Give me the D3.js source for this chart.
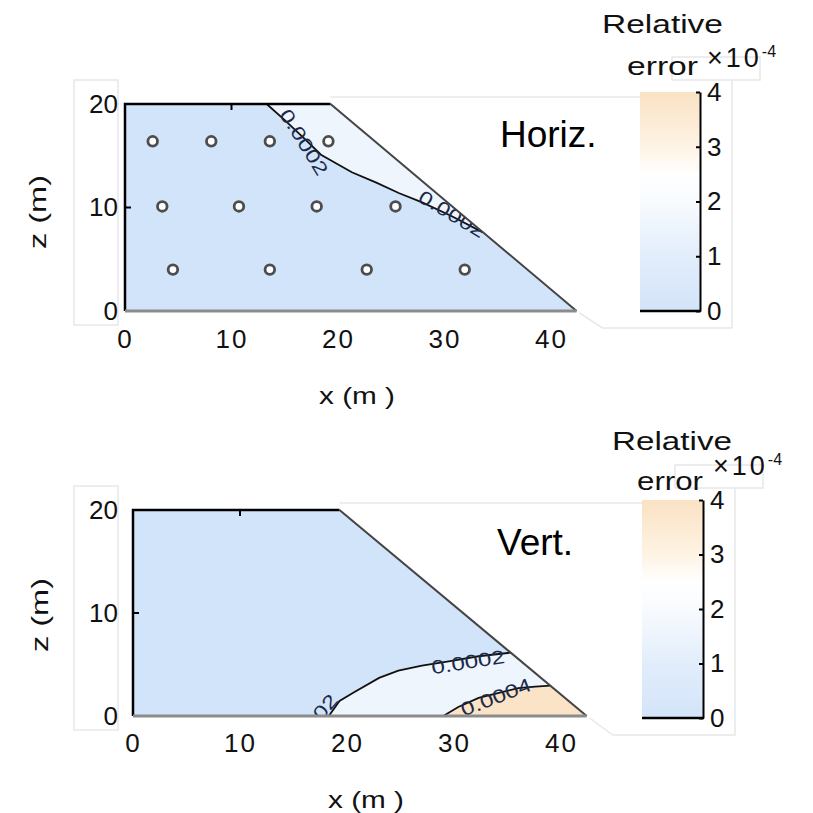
<!DOCTYPE html>
<html>
<head>
<meta charset="utf-8">
<script src="https://cdn.jsdelivr.net/npm/d3@7"></script>
<style>
  body { margin: 0; background: #fff; }
  svg { display: block; }
</style>
</head>
<body>
<div id="chart"></div>
<script>
// dam cross-section outline, x and z in metres
const damX = [0, 0, 19.3, 42.4]
const damZ = [0, 20, 20, 0]

// sensor locations (horizontal case only)
const sensorX = [2.6, 8.1, 13.6, 19.1, 3.5, 10.7, 18.0, 25.4, 4.5, 13.6, 22.7, 31.9]
const sensorZ = [16.4, 16.4, 16.4, 16.4, 10.1, 10.1, 10.1, 10.1, 4.0, 4.0, 4.0, 4.0]

// 2e-4 contour, horizontal load case
const horizC2X = [13.3, 15.0, 16.8, 18.4, 21.3, 23.6, 25.7, 27.9, 30.6, 33.6]
const horizC2Z = [20, 18.45, 16.7, 15.1, 13.4, 12.4, 11.4, 10.5, 9.2, 7.6]

// 2e-4 and 4e-4 contours, vertical load case
const vertC2X = [18.3, 19.3, 20.7, 23.0, 24.8, 27.0, 29.5, 32.3, 35.3]
const vertC2Z = [0, 1.46, 2.33, 3.7, 4.4, 4.9, 5.3, 5.8, 6.15]
const vertC4X = [29.0, 30.4, 32.3, 34.1, 36.0, 37.6, 39.0]
const vertC4Z = [0, 0.87, 1.75, 2.23, 2.7, 2.85, 2.94]

const xTicks = [0, 10, 20, 30, 40]
const zTicks = [0, 10, 20]
const errTicks = [0, 1, 2, 3, 4]   // x 1e-4

const colorStops = [0, 1, 2, 2.5, 3, 4]
const colorValues = ['#d3e4f9', '#e2edfb', '#f8fbfe', '#ffffff', '#fef3e4', '#fae2c4']
const errColor = d3.scaleLinear(colorStops, colorValues)

const FONT = '"Liberation Sans", Arial, sans-serif'
const zip = (xs, zs) => xs.map((v, i) => [v, zs[i]])
const dam = zip(damX, damZ)

const svg = d3.select('#chart').append('svg')
    .attr('width', 813)
    .attr('height', 813)
    .attr('viewBox', [0, 0, 813, 813])

const defs = svg.append('defs')
const grad = defs.append('linearGradient')
    .attr('id', 'errgrad')
    .attr('x1', 0).attr('x2', 0).attr('y1', 1).attr('y2', 0)
grad.selectAll('stop')
  .data(colorStops)
  .join('stop')
    .attr('offset', d => d / 4)
    .attr('stop-color', d => errColor(d))

const panels = [
  {
    id: 'h', title: 'Horiz.', titlePos: [500, 147],
    xr: [125, 551], zr: [311, 104],
    xAxisY: 330, zAxisX: 118, xLabel: [357, 404], zLabel: [38, 212],
    cb: { x0: 640, x1: 700, yr: [311, 92], rel: [602, 33, 121], err: [627, 75, 71], exp: [707, 67] },
    regions: [{ pts: zip(horizC2X, horizC2Z).concat([dam[2]]), fill: '#eef5fc' }],
    contours: [zip(horizC2X, horizC2Z)],
    labels: [
      { text: '0.0002', at: [304, 142], angle: 58 },
      { text: '0.0002', at: [452, 214], angle: 31 }
    ],
    sensors: true
  },
  {
    id: 'v', title: 'Vert.', titlePos: [497, 555],
    xr: [133, 561], zr: [716, 510],
    xAxisY: 734, zAxisX: 118, xLabel: [366, 808], zLabel: [40, 615],
    cb: { x0: 642, x1: 703, yr: [718, 500], rel: [612, 450, 120], err: [637, 490, 66], exp: [713, 475] },
    regions: [
      { pts: zip(vertC2X, vertC2Z).concat([dam[3]]), fill: '#eef5fc' },
      { pts: zip(vertC4X, vertC4Z).concat([dam[3]]), fill: '#fae3c6' }
    ],
    contours: [zip(vertC2X, vertC2Z), zip(vertC4X, vertC4Z)],
    labels: [
      { text: '0.0002', at: [468, 662], angle: -9 },
      { text: '0.0002', at: [310, 725], angle: -50 },
      { text: '0.0004', at: [496, 697], angle: -21 }
    ],
    sensors: false
  }
]

panels.forEach(p => {
  const x = d3.scaleLinear([0, 40], p.xr)
  const z = d3.scaleLinear([0, 20], p.zr)
  const line = d3.line().x(d => x(d[0])).y(d => z(d[1]))
  const g = svg.append('g')

  // faint frame leftovers around the labels
  const frame = g.append('g').attr('fill', 'none').attr('stroke', '#e8e8e8').attr('stroke-width', 1.5)
  frame.append('rect')
      .attr('x', 74).attr('y', z(20) - 24)
      .attr('width', 44).attr('height', z(0) - z(20) + 38)
  frame.append('path')
      .attr('d', `M${x(damX[2])},${z(20) - 7}H${p.cb.x0}`)
  frame.append('path')
      .attr('d', `M${p.cb.x1 + 32},${p.cb.yr[1] - 12}V${p.cb.yr[0] + 17}H${x(damX[3]) + 26}L${x(damX[3]) + 3},${z(0) + 2}`)
  frame.append('path')
      .attr('d', `M${p.cb.x1 - 28},${p.cb.yr[1] - 12}V${p.cb.yr[1] - 35}H${p.cb.x1 + 60}V${p.cb.yr[1] - 12}H${p.cb.x1 - 28}`)

  defs.append('clipPath').attr('id', 'clip-' + p.id)
    .append('path').attr('d', line(dam) + 'Z')

  // filled contour bands
  g.append('path')
      .attr('d', line(dam) + 'Z')
      .attr('fill', '#d2e4f9')
  g.append('g').attr('clip-path', `url(#clip-${p.id})`)
    .selectAll('path')
    .data(p.regions)
    .join('path')
      .attr('d', d => line(d.pts) + 'Z')
      .attr('fill', d => d.fill)

  // contour lines and labels
  g.append('g')
    .selectAll('path')
    .data(p.contours)
    .join('path')
      .attr('d', line)
      .attr('fill', 'none')
      .attr('stroke', '#111')
      .attr('stroke-width', 1.8)

  g.append('g').attr('clip-path', `url(#clip-${p.id})`)
    .selectAll('text')
    .data(p.labels)
    .join('text')
      .attr('transform', d => `translate(${d.at[0]},${d.at[1]}) rotate(${d.angle})`)
      .attr('text-anchor', 'middle')
      .attr('dy', '0.35em')
      .attr('font-family', FONT)
      .attr('font-size', 19)
      .attr('textLength', 74)
      .attr('lengthAdjust', 'spacingAndGlyphs')
      .attr('fill', '#1c2a4a')
      .text(d => d.text)

  // dam outline: black axis edges, grey slope and base
  g.append('path')
      .attr('d', line([dam[0], dam[1], dam[2]]))
      .attr('fill', 'none').attr('stroke', '#000').attr('stroke-width', 2.5)
  g.append('path')
      .attr('d', line([dam[2], dam[3]]))
      .attr('fill', 'none').attr('stroke', '#444').attr('stroke-width', 2)
  g.append('path')
      .attr('d', line([dam[3], dam[0]]))
      .attr('fill', 'none').attr('stroke', '#8c8c8c').attr('stroke-width', 3)

  // inward ticks that are not hidden by the patch
  g.append('g')
    .selectAll('line')
    .data(xTicks.filter(t => t > 0 && t < damX[2]))
    .join('line')
      .attr('x1', d => x(d)).attr('x2', d => x(d))
      .attr('y1', z(20)).attr('y2', z(20) + 6)
      .attr('stroke', '#000').attr('stroke-width', 2)
  g.append('g')
    .selectAll('line')
    .data(zTicks.filter(t => t > 0 && t < 20))
    .join('line')
      .attr('x1', x(0)).attr('x2', x(0) + 6)
      .attr('y1', d => z(d)).attr('y2', d => z(d))
      .attr('stroke', '#000').attr('stroke-width', 2)

  if (p.sensors) {
    g.append('g')
      .selectAll('circle')
      .data(zip(sensorX, sensorZ))
      .join('circle')
        .attr('cx', d => x(d[0]))
        .attr('cy', d => z(d[1]))
        .attr('r', 4.8)
        .attr('fill', '#fff')
        .attr('stroke', '#4d4d4d')
        .attr('stroke-width', 2.8)
  }

  // tick labels
  const xAxis = g.append('g')
      .attr('transform', `translate(0,${p.xAxisY})`)
      .call(d3.axisBottom(x).tickValues(xTicks).tickSize(0).tickPadding(0))
  const zAxis = g.append('g')
      .attr('transform', `translate(${p.zAxisX},0)`)
      .call(d3.axisLeft(z).tickValues(zTicks).tickSize(0).tickPadding(0))
  ;[xAxis, zAxis].forEach(a => {
    a.select('.domain').remove()
    a.selectAll('text')
        .attr('font-family', FONT)
        .attr('font-size', 26)
        .attr('fill', '#111')
  })
  xAxis.selectAll('text').attr('letter-spacing', 2)

  g.append('text')
      .attr('x', p.xLabel[0]).attr('y', p.xLabel[1])
      .attr('text-anchor', 'middle')
      .attr('font-family', FONT).attr('font-size', 24)
      .attr('textLength', 76).attr('lengthAdjust', 'spacingAndGlyphs')
      .attr('fill', '#111')
      .text('x (m )')
  g.append('text')
      .attr('transform', `translate(${p.zLabel[0] + 8},${p.zLabel[1]}) rotate(-90)`)
      .attr('text-anchor', 'middle')
      .attr('font-family', FONT).attr('font-size', 24)
      .attr('textLength', 74).attr('lengthAdjust', 'spacingAndGlyphs')
      .attr('fill', '#111')
      .text('z (m)')

  g.append('text')
      .attr('x', p.titlePos[0]).attr('y', p.titlePos[1])
      .attr('font-family', FONT).attr('font-size', 37)
      .attr('fill', '#000')
      .text(p.title)

  // colorbar
  const cy = d3.scaleLinear([0, 4], p.cb.yr)
  const cb = g.append('g')
  cb.append('rect')
      .attr('x', p.cb.x0).attr('y', cy(4))
      .attr('width', p.cb.x1 - p.cb.x0).attr('height', cy(0) - cy(4))
      .attr('fill', 'url(#errgrad)')
  const cAxis = cb.append('g')
      .attr('transform', `translate(${p.cb.x1},0)`)
      .call(d3.axisRight(cy).tickValues(errTicks).tickFormat(d3.format('d'))
        .tickSizeInner(-4).tickSizeOuter(0).tickPadding(7))
  cAxis.select('.domain').attr('stroke', '#000').attr('stroke-width', 2)
  cAxis.selectAll('.tick line').attr('stroke', '#000').attr('stroke-width', 2)
  cAxis.selectAll('text')
      .attr('font-family', FONT).attr('font-size', 26).attr('fill', '#111')
  cb.append('line')
      .attr('x1', p.cb.x0).attr('x2', p.cb.x1 + 1)
      .attr('y1', cy(0)).attr('y2', cy(0))
      .attr('stroke', '#000').attr('stroke-width', 2.5)

  cb.append('text')
      .attr('x', p.cb.rel[0]).attr('y', p.cb.rel[1])
      .attr('font-family', FONT).attr('font-size', 26)
      .attr('textLength', p.cb.rel[2]).attr('lengthAdjust', 'spacingAndGlyphs')
      .attr('fill', '#111')
      .text('Relative')
  cb.append('text')
      .attr('x', p.cb.err[0]).attr('y', p.cb.err[1])
      .attr('font-family', FONT).attr('font-size', 26)
      .attr('textLength', p.cb.err[2]).attr('lengthAdjust', 'spacingAndGlyphs')
      .attr('fill', '#111')
      .text('error')
  const ex = cb.append('text')
      .attr('x', p.cb.exp[0]).attr('y', p.cb.exp[1])
      .attr('font-family', FONT).attr('font-size', 27)
      .attr('fill', '#111')
  ex.append('tspan').attr('letter-spacing', 3).text('\u00d710')
  ex.append('tspan').attr('dy', -10).attr('font-size', 16).text('-4')
})
</script>
</body>
</html>
